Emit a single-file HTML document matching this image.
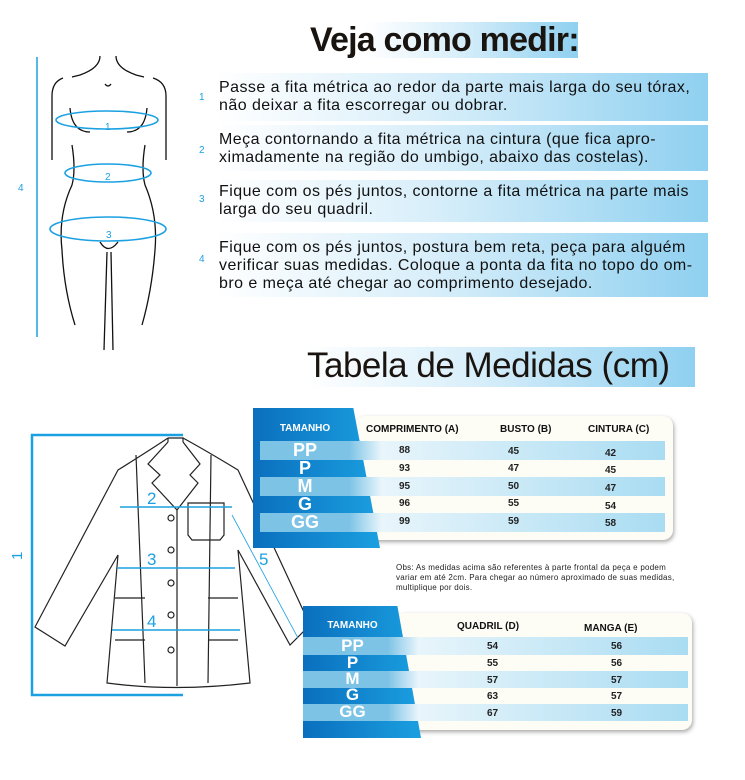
<!DOCTYPE html>
<html><head><meta charset="utf-8"><style>
body{margin:0;width:745px;height:780px;background:#fff;position:relative;overflow:hidden;font-family:"Liberation Sans",sans-serif;color:#1a1a1a}
.a{position:absolute}
.box{position:absolute;background:linear-gradient(90deg,#fff 0%,#d7eefa 45%,#8fd0f0 100%)}
.txt{position:absolute;font-size:16px;line-height:18px;color:#111;letter-spacing:0.45px;white-space:nowrap}
.num{position:absolute;color:#1ba0e2;font-size:10px}
.stripe{position:absolute;background:linear-gradient(90deg,#7cc3e6 0%,#7cc3e6 22%,#e8f5fb 30%,#a9dcf2 100%)}
.sz{position:absolute;color:#fff;font-weight:bold;text-align:center}
.v{position:absolute;font-size:10px;font-weight:bold;color:#222}
.h{position:absolute;font-size:10px;font-weight:bold;color:#111}
</style></head><body>
<div class="box" style="left:365px;top:22px;width:213px;height:36px"></div>
<div class="a" style="left:310px;top:21px;font-size:34px;font-weight:bold;letter-spacing:-0.8px;color:#1a1410;white-space:nowrap">Veja como medir:</div>

<div class="box" style="left:215px;top:73px;width:493px;height:48px"></div>
<div class="box" style="left:215px;top:125px;width:493px;height:46px"></div>
<div class="box" style="left:215px;top:180px;width:493px;height:42px"></div>
<div class="box" style="left:215px;top:233px;width:493px;height:64px"></div>
<div class="num" style="left:199px;top:92px">1</div>
<div class="num" style="left:199px;top:145px">2</div>
<div class="num" style="left:199px;top:194px">3</div>
<div class="num" style="left:199px;top:254px">4</div>
<div class="txt" style="left:219px;top:79px">Passe a fita métrica ao redor da parte mais larga do seu tórax,<br>não deixar a fita escorregar ou dobrar.</div>
<div class="txt" style="left:219px;top:131px">Meça contornando a fita métrica na cintura (que fica apro-<br>ximadamente na região do umbigo, abaixo das costelas).</div>
<div class="txt" style="left:219px;top:183px">Fique com os pés juntos, contorne a fita métrica na parte mais<br>larga do seu quadril.</div>
<div class="txt" style="left:219px;top:239px">Fique com os pés juntos, postura bem reta, peça para alguém<br>verificar suas medidas. Coloque a ponta da fita no topo do om-<br>bro e meça até chegar ao comprimento desejado.</div>

<svg class="a" style="left:0;top:0" width="200" height="360">
<g fill="none" stroke="#111" stroke-width="1.3">
<path d="M100 56 Q100 68 80 75 L72 77"/><path d="M116 56 Q116 68 136 75 L144 77"/>
<path d="M63 78 Q52 82 52 96 L52 160"/><path d="M153 78 Q166 82 166 96 L166 160"/>
<path d="M70 108 Q72 132 90 132"/><path d="M147 108 Q145 132 127 132"/>
<path d="M72 145 Q76 170 72 185 Q58 215 62 250 Q64 290 75 325"/>
<path d="M145 145 Q141 170 145 185 Q158 215 155 250 Q152 290 142 325"/>
<path d="M100 242 Q108 255 118 242"/><path d="M107 252 L104 350"/><path d="M111 252 L113 350"/>
<path d="M105 84 Q108 88 111 84"/>
</g>
<line x1="37" y1="57" x2="37" y2="337" stroke="#1ba0e2" stroke-width="1.5"/>
<g fill="none" stroke="#1ba0e2" stroke-width="1.6">
<ellipse cx="107" cy="120" rx="51" ry="9"/><ellipse cx="108" cy="173" rx="43" ry="9"/><ellipse cx="108" cy="229" rx="58" ry="12"/>
</g>
<g fill="#1ba0e2" font-size="10" font-family="Liberation Sans">
<text x="18" y="191">4</text><text x="105" y="130">1</text><text x="105" y="180">2</text><text x="106" y="238">3</text></g>
</svg>

<div class="box" style="left:305px;top:347px;width:390px;height:40px"></div>
<div class="a" style="left:307px;top:346px;font-size:35px;letter-spacing:-0.5px;color:#1a1410;white-space:nowrap">Tabela de Medidas (cm)</div>

<svg class="a" style="left:0;top:420px" width="330" height="300">
<g fill="none" stroke="#222" stroke-width="1.2">
<path d="M168 18 L183 18 L183 22"/><path d="M168 18 L168 22"/>
<path d="M168 18 Q150 30 118 50 L35 207 L65 226 L118 135 L107 263 Q175 272 250 263 L238 130 L290 225 L310 205 L238 50 Q205 30 183 18"/>
<path d="M168 22 L148 44 L160 55 L152 63 L177 90 L198 63 L190 55 L200 44 L183 22"/>
<path d="M136 35 L145 263"/><path d="M211 35 L208 263"/><path d="M177 90 L177 266"/>
<path d="M188 83 L224 83 L224 115 L220 120 L192 120 L188 115 Z"/>
<path d="M115 178 L145 178"/><path d="M115 220 L145 220"/><path d="M208 178 L238 178"/><path d="M208 220 L238 220"/>
<circle cx="171" cy="98" r="3"/><circle cx="171" cy="130" r="3"/><circle cx="171" cy="163" r="3"/><circle cx="171" cy="195" r="3"/><circle cx="171" cy="230" r="3"/>
</g>
<path d="M183 15 L32 15 L32 275 L183 275" fill="none" stroke="#1ba0e2" stroke-width="2.5"/>
<g stroke="#1ba0e2" stroke-width="1.4">
<line x1="120" y1="87" x2="232" y2="87"/><line x1="117" y1="148" x2="235" y2="148"/><line x1="112" y1="210" x2="240" y2="210"/>
<line x1="232" y1="95" x2="298" y2="218" stroke-width="0.8"/></g>
<g fill="#1ba0e2" font-size="17" font-family="Liberation Sans">
<text x="147" y="84">2</text><text x="147" y="145">3</text><text x="147" y="207">4</text><text x="259" y="145">5</text>
<text x="0" y="0" transform="translate(22,140) rotate(-90)" font-size="15">1</text></g>
</svg>

<!-- top table -->
<div class="a" style="left:355px;top:416px;width:318px;height:124px;background:#fdfdf6;border-radius:10px;box-shadow:1px 2px 4px rgba(0,0,0,.35)"></div>
<div class="a" style="left:253px;top:408px;width:127px;height:140px;background:linear-gradient(90deg,#0a6fbe,#1b9fe0);clip-path:polygon(0 0,79% 0,100% 100%,0 100%)"></div>
<div class="stripe" style="left:260px;top:441px;width:405px;height:19px"></div>
<div class="stripe" style="left:260px;top:477px;width:405px;height:19px"></div>
<div class="stripe" style="left:260px;top:513px;width:405px;height:19px"></div>
<div class="sz" style="left:260px;top:423px;width:90px;font-size:10px">TAMANHO</div>
<div class="sz" style="left:260px;top:440px;width:90px;font-size:18px">PP</div>
<div class="sz" style="left:260px;top:458px;width:90px;font-size:18px">P</div>
<div class="sz" style="left:260px;top:476px;width:90px;font-size:18px">M</div>
<div class="sz" style="left:260px;top:494px;width:90px;font-size:18px">G</div>
<div class="sz" style="left:260px;top:512px;width:90px;font-size:18px">GG</div>
<div class="h" style="left:366px;top:424px">COMPRIMENTO (A)</div>
<div class="h" style="left:500px;top:424px">BUSTO (B)</div>
<div class="h" style="left:588px;top:424px">CINTURA (C)</div>
<div class="v" style="left:399px;top:445px">88</div><div class="v" style="left:399px;top:463px">93</div><div class="v" style="left:399px;top:481px">95</div><div class="v" style="left:399px;top:498px">96</div><div class="v" style="left:399px;top:516px">99</div>
<div class="v" style="left:508px;top:446px">45</div><div class="v" style="left:508px;top:463px">47</div><div class="v" style="left:508px;top:481px">50</div><div class="v" style="left:508px;top:498px">55</div><div class="v" style="left:508px;top:516px">59</div>
<div class="v" style="left:605px;top:448px">42</div><div class="v" style="left:605px;top:465px">45</div><div class="v" style="left:605px;top:483px">47</div><div class="v" style="left:605px;top:501px">54</div><div class="v" style="left:605px;top:518px">58</div>

<div class="a" style="left:396px;top:563px;font-size:8px;line-height:10px;color:#222;width:292px;letter-spacing:0.25px">Obs: As medidas acima são referentes à parte frontal da peça e podem variar em até 2cm. Para chegar ao número aproximado de suas medidas, multiplique por dois.</div>

<!-- bottom table -->
<div class="a" style="left:395px;top:613px;width:297px;height:117px;background:#fdfdf6;border-radius:10px;box-shadow:1px 2px 4px rgba(0,0,0,.35)"></div>
<div class="a" style="left:303px;top:606px;width:118px;height:132px;background:linear-gradient(90deg,#0a6fbe,#1b9fe0);clip-path:polygon(0 0,80% 0,100% 100%,0 100%)"></div>
<div class="stripe" style="left:303px;top:637px;width:385px;height:18px"></div>
<div class="stripe" style="left:303px;top:671px;width:385px;height:17px"></div>
<div class="stripe" style="left:303px;top:704px;width:385px;height:17px"></div>
<div class="sz" style="left:305px;top:620px;width:95px;font-size:10px">TAMANHO</div>
<div class="sz" style="left:305px;top:636px;width:95px;font-size:17px">PP</div>
<div class="sz" style="left:305px;top:653px;width:95px;font-size:17px">P</div>
<div class="sz" style="left:305px;top:669px;width:95px;font-size:17px">M</div>
<div class="sz" style="left:305px;top:685px;width:95px;font-size:17px">G</div>
<div class="sz" style="left:305px;top:702px;width:95px;font-size:17px">GG</div>
<div class="h" style="left:457px;top:621px">QUADRIL (D)</div>
<div class="h" style="left:584px;top:623px">MANGA (E)</div>
<div class="v" style="left:487px;top:641px">54</div><div class="v" style="left:487px;top:658px">55</div><div class="v" style="left:487px;top:675px">57</div><div class="v" style="left:487px;top:691px">63</div><div class="v" style="left:487px;top:708px">67</div>
<div class="v" style="left:611px;top:641px">56</div><div class="v" style="left:611px;top:658px">56</div><div class="v" style="left:611px;top:675px">57</div><div class="v" style="left:611px;top:691px">57</div><div class="v" style="left:611px;top:708px">59</div>
</body></html>
